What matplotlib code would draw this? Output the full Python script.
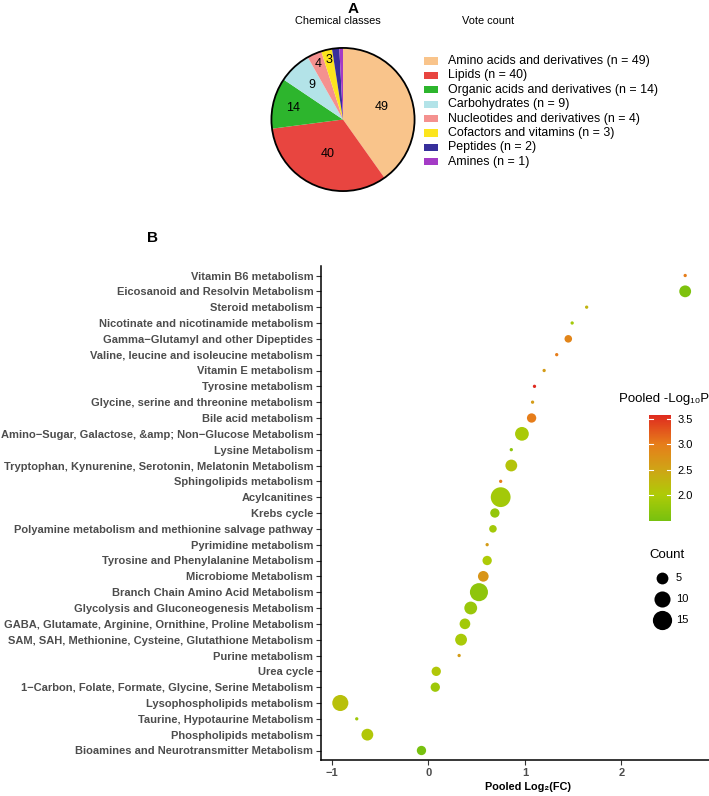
import numpy as np
import matplotlib
matplotlib.use("Agg")
import matplotlib.pyplot as plt
from matplotlib.colors import LinearSegmentedColormap, Normalize
from matplotlib.patches import Rectangle, Circle
from matplotlib.lines import Line2D

plt.rcParams['font.family'] = ['Liberation Sans', 'DejaVu Sans']

# ---------------- data ----------------
pie_classes = ["Amino acids and derivatives", "Lipids", "Organic acids and derivatives",
               "Carbohydrates", "Nucleotides and derivatives", "Cofactors and vitamins",
               "Peptides", "Amines"]
pie_counts = [49, 40, 14, 9, 4, 3, 2, 1]
pie_colors = ["#F9C48B", "#E84540", "#2DB52D", "#B3E3E8", "#F4918F", "#FCE51E",
              "#372F9B", "#A43BC6"]

pathways = [
    "Vitamin B6 metabolism",
    "Eicosanoid and Resolvin Metabolism",
    "Steroid metabolism",
    "Nicotinate and nicotinamide metabolism",
    "Gamma\u2212Glutamyl and other Dipeptides",
    "Valine, leucine and isoleucine metabolism",
    "Vitamin E metabolism",
    "Tyrosine metabolism",
    "Glycine, serine and threonine metabolism",
    "Bile acid metabolism",
    "Amino\u2212Sugar, Galactose, &amp; Non\u2212Glucose Metabolism",
    "Lysine Metabolism",
    "Tryptophan, Kynurenine, Serotonin, Melatonin Metabolism",
    "Sphingolipids metabolism",
    "Acylcanitines",
    "Krebs cycle",
    "Polyamine metabolism and methionine salvage pathway",
    "Pyrimidine metabolism",
    "Tyrosine and Phenylalanine Metabolism",
    "Microbiome Metabolism",
    "Branch Chain Amino Acid Metabolism",
    "Glycolysis and Gluconeogenesis Metabolism",
    "GABA, Glutamate, Arginine, Ornithine, Proline Metabolism",
    "SAM, SAH, Methionine, Cysteine, Glutathione Metabolism",
    "Purine metabolism",
    "Urea cycle",
    "1\u2212Carbon, Folate, Formate, Glycine, Serine Metabolism",
    "Lysophospholipids metabolism",
    "Taurine, Hypotaurine Metabolism",
    "Phospholipids metabolism",
    "Bioamines and Neurotransmitter Metabolism",
]
log2fc = [2.66, 2.66, 1.64, 1.49, 1.45, 1.33, 1.20, 1.10, 1.08, 1.07, 0.97, 0.86, 0.86,
          0.75, 0.75, 0.69, 0.67, 0.61, 0.61, 0.57, 0.525, 0.44, 0.38, 0.34, 0.32,
          0.083, 0.073, -0.91, -0.74, -0.63, -0.07]
neglog10p = [3.0, 1.55, 2.3, 1.9, 2.9, 3.0, 2.6, 3.58, 2.6, 3.0, 1.95, 1.7, 2.1,
             3.0, 1.9, 1.75, 1.9, 2.6, 2.0, 2.7, 1.7, 1.8, 1.9, 1.95, 2.6,
             2.05, 1.85, 2.15, 1.85, 2.05, 1.48]
counts = [1, 5, 1, 1, 2, 1, 1, 1, 1, 3, 7, 1, 5, 1, 16, 3, 2, 1, 3, 4, 13, 6, 4, 5, 1,
          3, 3, 10, 1, 5, 3]
size_breaks = [5, 10, 15]
cbar_ticks = [2.0, 2.5, 3.0, 3.5]

# ---------------- figure ----------------
W, H = 709, 796
fig = plt.figure(figsize=(W / 100, H / 100), dpi=100)

def fx(x):
    return x / W

def fy(y):
    return 1 - y / H

# ---------- Panel A: pie ----------
cx, cy, r = 343, 119.5, 73
axp = fig.add_axes([fx(cx - r), fy(cy + r), 2 * r / W, 2 * r / H])
wedges, _ = axp.pie(pie_counts, colors=pie_colors, startangle=90, counterclock=False,
                    radius=1.0, wedgeprops=dict(linewidth=0))
axp.set_xlim(-1.02, 1.02)
axp.set_ylim(-1.02, 1.02)
axp.add_patch(Circle((0, 0), 1.0, fill=False, edgecolor='black', linewidth=1.3))
axp.axis('off')

label_radius = [0.57, 0.53, 0.72, 0.65, 0.85, 0.86]
total = sum(pie_counts)
start = 90.0
for i, c in enumerate(pie_counts):
    ang = start - 360.0 * c / total / 2
    start -= 360.0 * c / total
    if i < len(label_radius):
        a = np.deg2rad(ang)
        rr = label_radius[i]
        axp.text(rr * np.cos(a), rr * np.sin(a), str(c), ha='center', va='center',
                 fontsize=9, color='black')

fig.text(fx(338), fy(21), "Chemical classes", ha='center', va='center', fontsize=7.9)
fig.text(fx(488), fy(21), "Vote count", ha='center', va='center', fontsize=7.9)
fig.text(fx(353), fy(9), "A", ha='center', va='center', fontsize=11, fontweight='bold')

# pie legend
for i, (name, c, col) in enumerate(zip(pie_classes, pie_counts, pie_colors)):
    yy = 61 + 14.4 * i
    fig.patches.append(Rectangle((fx(424.5), fy(yy + 3.6)), 14 / W, 7.2 / H,
                                 transform=fig.transFigure, facecolor=col,
                                 edgecolor='none'))
    fig.text(fx(448), fy(yy), f"{name} (n = {c})", ha='left', va='center',
             fontsize=8.9, color='black')

# ---------- Panel B: dot plot ----------
fig.text(fx(152), fy(238), "B", ha='center', va='center', fontsize=11, fontweight='bold')

left_px, right_px, top_px, bot_px = 321, 735, 266, 760
ax = fig.add_axes([fx(left_px), fy(bot_px), (right_px - left_px) / W,
                   (bot_px - top_px) / H])

n = len(pathways)
ypos = np.arange(n)[::-1]

cmap = LinearSegmentedColormap.from_list(
    "gyr",
    [(0.0, "#77C10F"), ((2.0 - 1.48) / 2.1, "#AECB07"), ((2.5 - 1.48) / 2.1, "#CFA416"),
     ((3.0 - 1.48) / 2.1, "#E67E1A"), (1.0, "#DF2A1F")])
norm = Normalize(vmin=min(neglog10p), vmax=max(neglog10p))

cmax = max(counts)
cmin = min(counts)

def diam_px(c):
    c = np.asarray(c, dtype=float)
    return 3.3 * (1 + 5 * np.sqrt((c - cmin) / (cmax - cmin)))

sizes = (diam_px(counts) * 0.72) ** 2
sc = ax.scatter(log2fc, ypos, s=sizes, c=neglog10p, cmap=cmap, norm=norm,
                linewidths=0, zorder=3)

ax.set_ylim(-0.6, n - 0.4)
ax.set_xlim(-1.11, -1.11 + (right_px - left_px) / 96.6)
ax.set_yticks(ypos)
ax.set_yticklabels(pathways, fontsize=8.0, fontweight='bold', color='#4D4D4D')
ax.set_xticks([-1, 0, 1, 2])
ax.set_xticklabels(["\u22121", "0", "1", "2"], fontsize=8, fontweight='bold',
                   color='#4D4D4D')
ax.tick_params(axis='both', length=3.5, width=0.8, color='#333333', pad=2)
for s in ['top', 'right']:
    ax.spines[s].set_visible(False)
for s in ['left', 'bottom']:
    ax.spines[s].set_linewidth(1.1)
    ax.spines[s].set_color('black')
ax.set_xlabel("Pooled Log\u2082(FC)", fontsize=7.8, fontweight='bold', va='center')
ax.xaxis.set_label_coords((528 - left_px) / (right_px - left_px),
                          -(787 - bot_px) / (bot_px - top_px))

# colorbar
cax = fig.add_axes([fx(649), fy(521), 22 / W, 106 / H])
cb = fig.colorbar(sc, cax=cax)
cb.outline.set_visible(False)
cb.set_ticks(cbar_ticks)
cb.set_ticklabels([f"{t:.1f}" for t in cbar_ticks])
cax.tick_params(length=0, pad=4.5, labelsize=8)
tr = cax.get_yaxis_transform()
for t in cbar_ticks:
    cax.plot([0, 0.2], [t, t], color='white', lw=0.8, transform=tr)
    cax.plot([0.8, 1.0], [t, t], color='white', lw=0.8, transform=tr)
fig.text(fx(619), fy(399), "Pooled -Log\u2081\u2080P", ha='left', va='center', fontsize=9.5)

# size legend
fig.text(fx(649), fy(555), "Count", ha='left', va='center', fontsize=9.5)
for k, b in enumerate(size_breaks):
    yy = 577.7 + 21.3 * k
    fig.add_artist(Line2D([fx(661.7)], [fy(yy)], marker='o', linestyle='none',
                          markersize=float(diam_px(b)) * 0.72, markerfacecolor='black',
                          markeredgewidth=0, transform=fig.transFigure))
    fig.text(fx(676), fy(yy), str(b), ha='left', va='center', fontsize=8)

fig.savefig("out.png", dpi=100)
